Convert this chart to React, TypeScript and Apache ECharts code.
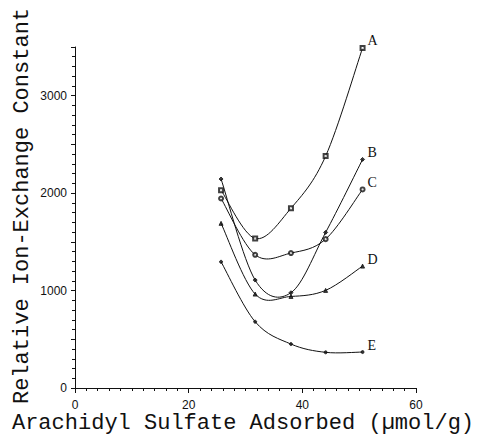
import React, { useEffect, useRef } from "react";
import * as echarts from "echarts";

const xValues = [25.7, 31.7, 38, 44.1, 50.6];
const seriesA = [2030, 1535, 1845, 2380, 3490];
const seriesB = [2145, 1108, 978, 1597, 2346];
const seriesC = [1945, 1367, 1385, 1528, 2038];
const seriesD = [1690, 964, 940, 1002, 1251];
const seriesE = [1295, 680, 451, 366, 369];
const seriesNames = ["A", "B", "C", "D", "E"];
const seriesSymbols = ["emptyRect", "diamond", "emptyCircle", "triangle", "circle"];
const xTickLabels = ["0", "20", "40", "60"];
const yTickLabels = ["0", "1000", "2000", "3000"];
const xTitle = "Arachidyl Sulfate Adsorbed (\u00b5mol/g)";
const yTitle = "Relative Ion-Exchange Constant";

export default function App() {
  const ref = useRef<HTMLDivElement>(null);
  useEffect(() => {
    if (!ref.current) return;
    document.body.style.margin = "0";
    const chart = echarts.init(ref.current, null, { renderer: "svg" });
    const all = [seriesA, seriesB, seriesC, seriesD, seriesE];
    const curveSeries = all.map((vals, i) => {
      const data = vals.map((v, j) => [xValues[j], v]);
      return {
        type: "custom",
        name: seriesNames[i] + "-curve",
        coordinateSystem: "cartesian2d",
        encode: { x: 0, y: 1 },
        clip: false,
        silent: true,
        data,
        renderItem: (params: any, api: any) => {
          const idx = params.dataIndex;
          const n = data.length;
          const pts = data.map((d) => api.coord(d));
          const children: any[] = [];
          if (idx < n - 1) {
            const p0 = pts[Math.max(idx - 1, 0)];
            const p1 = pts[idx];
            const p2 = pts[idx + 1];
            const p3 = pts[Math.min(idx + 2, n - 1)];
            const k = 6;
            children.push({
              type: "bezierCurve",
              shape: {
                x1: p1[0],
                y1: p1[1],
                x2: p2[0],
                y2: p2[1],
                cpx1: p1[0] + (p2[0] - p0[0]) / k,
                cpy1: p1[1] + (p2[1] - p0[1]) / k,
                cpx2: p2[0] - (p3[0] - p1[0]) / k,
                cpy2: p2[1] - (p3[1] - p1[1]) / k,
              },
              style: { stroke: "#111", lineWidth: 1, fill: "none" },
            });
          } else {
            const p = pts[idx];
            children.push({
              type: "text",
              x: p[0] + 5,
              y: p[1] - 7,
              style: {
                text: seriesNames[i],
                fontFamily: "Liberation Serif",
                fontSize: 14,
                fill: "#111",
                align: "left",
                verticalAlign: "middle",
              },
            });
          }
          return { type: "group", children };
        },
      };
    });
    const markerSeries = all.map((vals, i) => ({
      type: "scatter",
      name: seriesNames[i],
      data: vals.map((v, j) => [xValues[j], v]),
      symbol: seriesSymbols[i],
      symbolSize: i === 4 ? 3 : 4,
      itemStyle: { color: "#111", borderColor: "#111", borderWidth: 1 },
      z: 3,
    }));
    chart.setOption({
      animation: false,
      backgroundColor: "#fff",
      grid: { left: 75, right: 62, top: 47, bottom: 48, containLabel: false },
      xAxis: {
        type: "value",
        min: 0,
        max: 60,
        interval: 20,
        axisLine: { show: true, onZero: false, lineStyle: { color: "#111", width: 1 } },
        axisTick: { show: true, length: 5, lineStyle: { color: "#111" } },
        minorTick: { show: true, splitNumber: 10, length: 3, lineStyle: { color: "#111" } },
        splitLine: { show: false },
        axisLabel: {
          margin: 11,
          color: "#111",
          fontFamily: "Liberation Sans",
          fontSize: 12,
          formatter: (v: number) => (xTickLabels.includes(String(v)) ? String(v) : ""),
        },
      },
      yAxis: {
        type: "value",
        min: 0,
        max: 3500,
        interval: 500,
        axisLine: { show: true, lineStyle: { color: "#111", width: 1 } },
        axisTick: { show: true, length: 4, lineStyle: { color: "#111" } },
        minorTick: { show: true, splitNumber: 5, length: 3, lineStyle: { color: "#111" } },
        splitLine: { show: false },
        axisLabel: {
          margin: 8,
          color: "#111",
          fontFamily: "Liberation Sans",
          fontSize: 12,
          formatter: (v: number) => (yTickLabels.includes(String(v)) ? String(v) : ""),
        },
      },
      graphic: [
        {
          type: "text",
          x: 243,
          y: 423,
          style: {
            text: xTitle,
            fontFamily: "Liberation Mono",
            fontSize: 22,
            fill: "#111",
            align: "center",
            verticalAlign: "middle",
          },
        },
        {
          type: "text",
          x: 22,
          y: 206,
          rotation: Math.PI / 2,
          style: {
            text: yTitle,
            fontFamily: "Liberation Mono",
            fontSize: 22,
            fill: "#111",
            align: "center",
            verticalAlign: "middle",
          },
        },
      ],
      series: [...curveSeries, ...markerSeries],
    });
    return () => chart.dispose();
  }, []);
  return (
    <div
      ref={ref}
      style={{ position: "absolute", left: 0, top: 0, width: 478, height: 436 }}
    />
  );
}
